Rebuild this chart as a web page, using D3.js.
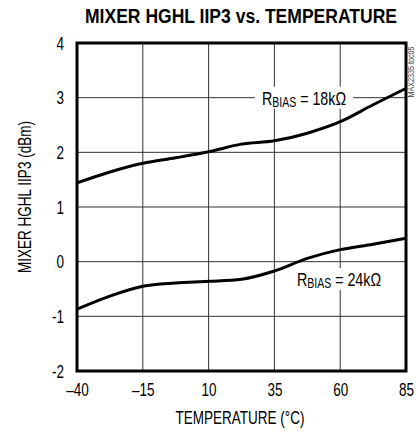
<!DOCTYPE html>
<html lang="en">
<head>
<meta charset="UTF-8">
<title>MIXER HGHL IIP3 vs. TEMPERATURE</title>
<script src="https://cdn.jsdelivr.net/npm/d3@7"></script>
<style>
    body { margin: 0; background: #fff; }
    text { font-family: "Liberation Sans", Arial, sans-serif; fill: #000; }
</style>
</head>
<body>
<svg width="416" height="434"></svg>
<script>
    // temperature points (degC)
    var temps = [-40, -27.5, -15, -2.5, 10, 22.5, 35, 47.5, 60, 72.5, 85];
    // RBIAS = 18k
    var iip3_18k = [1.44, 1.64, 1.80, 1.90, 2.01, 2.15, 2.21, 2.35, 2.56, 2.87, 3.17];
    // RBIAS = 24k
    var iip3_24k = [-0.87, -0.63, -0.45, -0.39, -0.36, -0.32, -0.17, 0.06, 0.22, 0.32, 0.43];
    var xTicks = [-40, -15, 10, 35, 60, 85];
    var yTicks = [-2, -1, 0, 1, 2, 3, 4];

    var svg = d3.select("svg");
    var pl = 77, pr = 406, pt = 43, pb = 371;

    var x = d3.scaleLinear().domain([-40, 85]).range([pl, pr]);
    var y = d3.scaleLinear().domain([-2, 4]).range([pb, pt]);

    // squeeze text horizontally to mimic a condensed face
    function condense(sel, k) {
        sel.each(function() {
            var len = this.getComputedTextLength();
            d3.select(this).attr("textLength", len * k).attr("lengthAdjust", "spacingAndGlyphs");
        });
    }

    // title
    svg.append("text")
        .attr("x", 241).attr("y", 23)
        .attr("text-anchor", "middle")
        .attr("font-size", "20px")
        .attr("font-weight", "bold")
        .attr("textLength", 312).attr("lengthAdjust", "spacingAndGlyphs")
        .text("MIXER HGHL IIP3 vs. TEMPERATURE");

    // grid
    var grid = svg.append("g").attr("stroke", "#333").attr("stroke-width", 1);
    grid.selectAll(".gx").data(xTicks.slice(1, -1)).enter().append("line")
        .attr("x1", d => x(d)).attr("x2", d => x(d))
        .attr("y1", pt).attr("y2", pb);
    grid.selectAll(".gy").data(yTicks.slice(1, -1)).enter().append("line")
        .attr("y1", d => y(d)).attr("y2", d => y(d))
        .attr("x1", pl).attr("x2", pr);

    // axes (labels only, frame drawn separately)
    var ax = svg.append("g").attr("transform", "translate(0," + pb + ")")
        .call(d3.axisBottom(x).tickValues(xTicks).tickSize(0).tickPadding(12).tickFormat(d => d < 0 ? "\u2013" + (-d) : String(d)));
    var ay = svg.append("g").attr("transform", "translate(" + pl + ",0)")
        .call(d3.axisLeft(y).tickValues(yTicks).tickSize(0).tickPadding(13).tickFormat(d => String(d)));
    [ax, ay].forEach(function(a) {
        a.select(".domain").remove();
        a.selectAll("text").attr("font-size", "18px").attr("font-family", null).call(condense, 0.75);
    });
    ay.selectAll("text").attr("dy", "0.35em");

    // curves
    var line = d3.line().x(d => x(d[0])).y(d => y(d[1])).curve(d3.curveMonotoneX);
    [iip3_18k, iip3_24k].forEach(function(s) {
        svg.append("path")
            .datum(temps.map((t, i) => [t, s[i]]))
            .attr("fill", "none").attr("stroke", "#000").attr("stroke-width", 3)
            .attr("d", line);
    });

    // labels with white backing
    function label(cx, cy, w, rsize) {
        svg.append("rect").attr("x", cx - w / 2).attr("y", cy - 11).attr("width", w).attr("height", 22).attr("fill", "#fff");
        var t = svg.append("text").attr("x", cx).attr("y", cy + 7).attr("text-anchor", "middle").attr("font-size", "19px");
        t.append("tspan").text("R");
        t.append("tspan").attr("font-size", "14px").attr("dy", 2).text("BIAS");
        t.append("tspan").attr("dy", -2).text(" = " + rsize + "k\u03A9");
        condense(t, 0.75);
    }
    label(304, y(3), 98, 18);
    label(339, 279, 84, 24);

    // frame
    svg.append("rect").attr("x", pl).attr("y", pt).attr("width", pr - pl).attr("height", pb - pt)
        .attr("fill", "none").attr("stroke", "#000").attr("stroke-width", 3);

    // axis titles
    svg.append("text").attr("x", 240).attr("y", 424).attr("text-anchor", "middle").attr("font-size", "18px")
        .text("TEMPERATURE (\u00B0C)").call(condense, 0.75);
    svg.append("text").attr("transform", "translate(31,197) rotate(-90)")
        .attr("text-anchor", "middle").attr("font-size", "18px")
        .text("MIXER HGHL IIP3 (dBm)").call(condense, 0.75);

    // chart id
    svg.append("text").attr("transform", "translate(414,72) rotate(-90)")
        .attr("text-anchor", "middle").attr("font-size", "9px")
        .style("fill", "#444")
        .text("MAX2335 toc05").call(condense, 0.8);
</script>
</body>
</html>
